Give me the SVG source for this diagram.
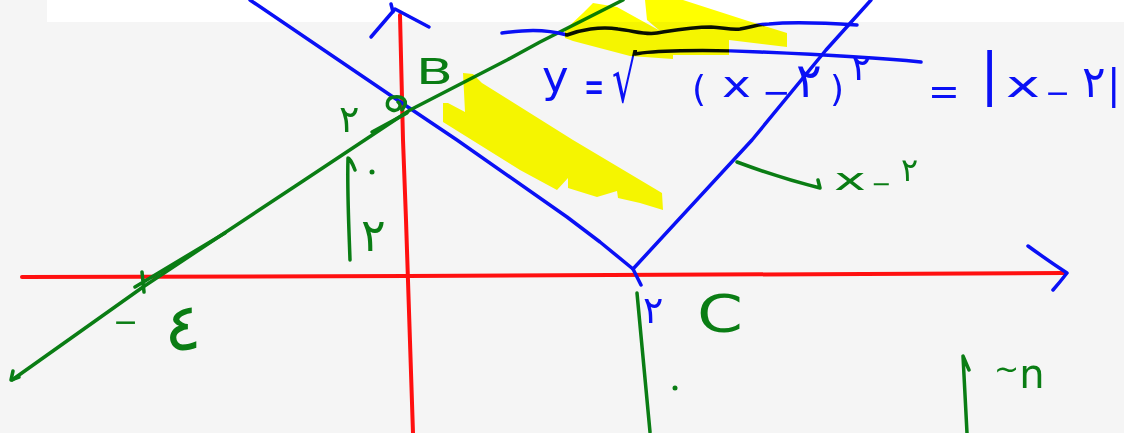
<svg xmlns="http://www.w3.org/2000/svg" width="1124" height="433" viewBox="0 0 1124 433">
<style>
.ln{fill:none;stroke-linecap:round;stroke-linejoin:round}
.red{stroke:#ff1010;stroke-width:4}
.blue{stroke:#0a10f5;stroke-width:3.5}
.green{stroke:#0a7d14;stroke-width:3.5}
.hl{fill:#ffff00;mix-blend-mode:multiply}
text{font-family:"DejaVu Sans","Noto Sans",sans-serif}
.tg{fill:#0a7d14}
.tb{fill:#0a10f5}
</style>
<rect width="1124" height="433" fill="#f5f5f5"/>
<rect x="47" y="0" width="1077" height="22" fill="#ffffff"/>

<g id="axes">
<path class="ln red" d="M22,277 L407,276 L1064,273"/>
<path class="ln red" d="M400,15 L403,140 L406,220 L413,433"/>
<path class="ln blue" d="M371,37 L395,9 L429,27 M391,4 L393,12"/>
<path class="ln blue" d="M1028,246 Q1050,262 1067,273 Q1060,282 1053,290"/>
</g>

<g id="graph-lines">
<path class="ln blue" d="M250,0 L393,97 L457,140 L567,217 L600,242 L633,269 L641,285"/>
<path class="ln blue" d="M633,269 L752,140 L826,50 L871,0"/>
<path class="ln green" d="M12,380 L143,287 L300,183 L410,110 L507,60 L540,42 L623,0"/>
<path class="ln green" d="M13,371 L11,380 L19,377"/>
<path class="ln green" d="M225,233 L135,287 M142,272 L144,292"/>
<path class="ln green" d="M372,132 L407,113"/>
<path class="ln green" d="M402,110 C410,100 402,96 394,97 C386,98 385,108 392,110 C398,112 403,106 398,102"/>
</g>

<g id="equation">
<path class="ln blue" d="M502,33 C520,31 540,28 567,35 C580,30 600,26 618,29 C635,31 645,35 657,33 C670,31 690,27 711,27 C725,28 732,30 740,29 C752,27 760,24 769,24 C790,22 810,22 857,25"/>
<path class="ln blue" d="M635,54 C650,51 700,49 760,52 C830,55 880,58 921,62"/>
<text class="tb" x="542" y="92" font-size="45">y</text>
<text class="tb" transform="translate(584,102) scale(0.55,1)" font-size="44">=</text>
<text class="tb" x="612" y="102" font-size="64" textLength="25" lengthAdjust="spacingAndGlyphs">√</text>
<text class="tb" x="692" y="101" font-size="36">(</text>
<text class="tb" x="722" y="97" font-size="36" textLength="29" lengthAdjust="spacingAndGlyphs">x</text>
<text class="tb" x="762" y="104" font-size="34">−</text>
<text class="tb" x="796" y="97" font-size="48">٢</text>
<text class="tb" x="830" y="101" font-size="36">)</text>
<text class="tb" x="851" y="80" font-size="38">٢</text>
<text class="tb" x="928" y="104" font-size="38">=</text>
<text class="tb" x="980" y="93" font-size="57">|</text>
<text class="tb" x="1006" y="97" font-size="36" textLength="34" lengthAdjust="spacingAndGlyphs">x</text>
<text class="tb" x="1045" y="103" font-size="30">−</text>
<text class="tb" x="1082" y="97" font-size="44">٢</text>
<text class="tb" x="1107" y="98" font-size="40">|</text>
</g>

<g id="label-B">
<text class="tg" x="416" y="84" font-size="36" textLength="37" lengthAdjust="spacingAndGlyphs">B</text>
<text class="tg" x="339" y="132" font-size="38">٢</text>
</g>

<g id="label-left">
<path class="ln green" d="M355,170 C352,162 349,158 348,158 C347,190 349,230 350,260"/>
<circle cx="372" cy="172" r="2.5" fill="#0a7d14"/>
<text class="tg" x="361" y="251" font-size="46">٢</text>
</g>

<g id="label-minus4">
<text class="tg" x="113" y="332" font-size="30">−</text>
<text class="tg" x="164" y="350" font-size="66" textLength="38" lengthAdjust="spacingAndGlyphs">٤</text>
</g>

<g id="label-x2">
<path class="ln green" d="M737,162 Q780,178 820,188 L818,180"/>
<text class="tg" x="834" y="190" font-size="30" textLength="32" lengthAdjust="spacingAndGlyphs">x</text>
<text class="tg" x="871" y="192" font-size="24">−</text>
<text class="tg" x="901" y="181" font-size="32">٢</text>
</g>

<g id="label-C">
<text class="tb" x="643" y="323" font-size="38">٢</text>
<text class="tg" x="697" y="332" font-size="52" textLength="46" lengthAdjust="spacingAndGlyphs">C</text>
<path class="ln green" d="M637,293 L650,432"/>
<circle cx="675" cy="388" r="2.5" fill="#0a7d14"/>
</g>

<g id="label-right">
<path class="ln green" d="M969,370 L963,356 L967,433"/>
<text class="tg" x="994" y="388" font-size="40"><tspan font-size="30" dy="-9">~</tspan><tspan dy="9">n</tspan></text>
</g>

<g id="highlights">
<polygon class="hl" points="463,73 473,74 482,83 573,140 662,193 663,210 640,203 618,198 617,191 597,197 568,188 568,178 557,190 520,170 443,122 443,103 448,103 465,112 464,92"/>
<polygon class="hl" points="593,3 617,7 673,38 673,59 630,56 573,41 565,38 565,30 583,13"/>
<polygon class="hl" points="645,0 683,0 745,20 787,33 787,47 729,40 729,55 673,55 673,42 647,20"/>
</g>
</svg>
